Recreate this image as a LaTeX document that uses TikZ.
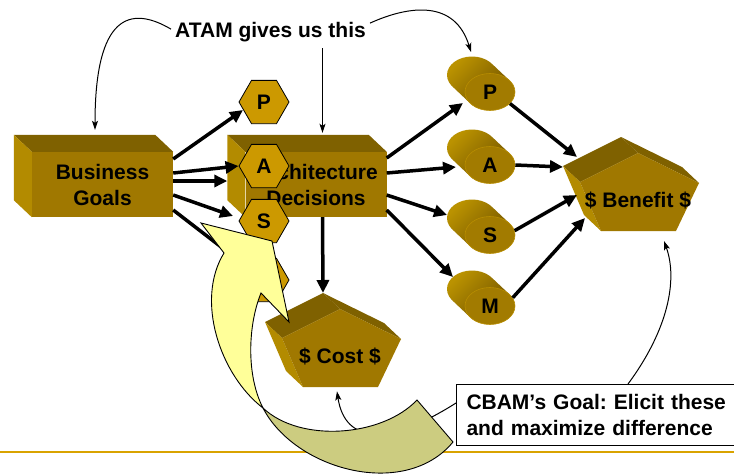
\documentclass[tikz,border=0pt]{standalone}
\usepackage{fontspec}
\setmainfont{Liberation Sans}
\usetikzlibrary{arrows.meta,calc,shapes.geometric}
\frenchspacing

\definecolor{goldfront}{HTML}{A07800}
\definecolor{goldtop}{HTML}{7F6100}
\definecolor{goldside}{HTML}{B38B00}
\definecolor{hexgold}{HTML}{CC9900}
\definecolor{cylfront}{HTML}{A27B00}
\definecolor{cylrim}{HTML}{B88D00}
\definecolor{cyllight}{HTML}{BA9200}
\definecolor{cyldark}{HTML}{725400}
\definecolor{arrowyellow}{HTML}{FFFF99}
\definecolor{arrowolive}{HTML}{CCCC80}
\definecolor{rulegold}{HTML}{D9A300}

% shaded body of a tilted cylinder whose front face is centred at #1
\newcommand{\cylinderbody}[1]{%
  \shade[left color=cyllight, right color=cyldark, shading angle=45]
    ($(#1)+(-19.7,11.4)$) -- ($(#1)+(-37.7,-5.6)$) -- ($(#1)+(1.7,-28.4)$) -- ($(#1)+(19.7,-11.4)$) -- cycle
    ($(#1)+(-19.7,11.4)$) -- ($(#1)+(-37.7,-5.6)$) -- ($(#1)+(1.7,-28.4)$) -- ($(#1)+(19.7,-11.4)$) -- cycle
    ($(#1)+(-18,-17)$) ellipse [x radius=25, y radius=18.5];
}

% extruded pentagon; #1 is the top corner of its front face
\newcommand{\pentaprism}[1]{%
  \fill[goldtop] ($(#1)+(-58,29)$) -- (#1) -- ($(#1)+(-17,-16)$) -- ($(#1)+(-75,13)$) -- cycle;
  \fill[goldtop] (#1) -- ($(#1)+(61,30)$) -- ($(#1)+(44,14)$) -- ($(#1)+(-17,-16)$) -- cycle;
  \fill[goldside] ($(#1)+(-37,78)$) -- ($(#1)+(-58,29)$) -- ($(#1)+(-75,13)$) -- ($(#1)+(-54,62)$) -- cycle;
  \fill[goldfront] (#1) -- ($(#1)+(61,30)$) -- ($(#1)+(38,78)$) -- ($(#1)+(-37,78)$) -- ($(#1)+(-58,29)$) -- cycle;
}

% top and left faces of a box whose front face is node #1
\newcommand{\boxsides}[1]{%
  \fill[goldtop] (#1.north west) -- (#1.north east) -- ($(#1.north east)+(-18,-17)$) -- ($(#1.north west)+(-18,-17)$) -- cycle;
  \fill[goldside] (#1.north west) -- (#1.south west) -- ($(#1.south west)+(-18,-17)$) -- ($(#1.north west)+(-18,-17)$) -- cycle;
}

\begin{document}
\begin{tikzpicture}[x=1pt,y=-1pt,
  bigfont/.style={font=\fontsize{21}{26}\selectfont\bfseries},
  lbl/.style={bigfont, inner sep=0pt},
  face/.style={rectangle, minimum width=141pt, minimum height=65pt, inner sep=0pt,
    fill=goldfront, align=center, bigfont},
  hexa/.style={regular polygon, regular polygon sides=6, minimum size=50pt, inner sep=0pt,
    fill=hexgold, draw=black, line width=0.8pt, bigfont},
  cylface/.style={ellipse, minimum width=50pt, minimum height=37pt, inner sep=0pt,
    fill=cylfront, draw=cylrim, line width=0.6pt, bigfont},
  bigarrow/.style={line width=3.5pt, -{Triangle[length=13pt,width=12pt]}},
  thinarrow/.style={line width=1pt, -{Stealth[length=9pt,width=6pt,inset=2pt]}},
]
\useasboundingbox (0,0) rectangle (734,474);

% footer rule
\draw[rulegold, line width=2pt] (0,452) -- (734,452);

% boxes
\node[face] (bg) at (102.5,184.5) {Business\\Goals};
\boxsides{bg}
\node[face] (ad) at (316,184.5) {Architecture\\Decisions};
\boxsides{ad}

% quality attribute hexagons
\node[hexa] (hP) at (264,102) {P};
\node[hexa] (hA) at (264,166) {A};
\node[hexa] (hS) at (264,221) {S};
\node[hexa] (hM) at (264,280) {M};

% cylinders
\cylinderbody{490,92}
\node[cylface] (cP) at (490,92) {P};
\cylinderbody{490,165}
\node[cylface] (cA) at (490,165) {A};
\cylinderbody{490,235}
\node[cylface] (cS) at (490,235) {S};
\cylinderbody{490,306}
\node[cylface] (cM) at (490,306) {M};

% benefit and cost pentagons
\coordinate (benT) at (638,153);
\pentaprism{benT}
\node[lbl, anchor=base] (benefit) at (638,207.5) {\$ Benefit \$};
\coordinate (cosT) at (340,309);
\pentaprism{cosT}
\node[lbl, anchor=base] (cost) at (340,363.3) {\$ Cost \$};

% heading and its pointers
\node[lbl, anchor=base] (atam) at (270.5,37.5) {ATAM gives us this};
\draw[thinarrow] ($(atam.west)+(-4,-3)$) .. controls (130,5) and (95,15) .. ($(bg.north)+(-7.5,-22)$);
\draw[thinarrow] ($(atam.east)+(4,-9)$) .. controls (410,5) and (455,0) .. ($(cP)+(-19,-40)$);
\draw[thinarrow] ($(atam.south)+(52,6)$) -- ($(ad.north)+(6.5,-19)$);

% goal box and its pointers
\node[draw=black, line width=1pt, fill=white, anchor=north west, minimum height=61pt,
  text width=270pt, inner xsep=10pt, inner ysep=0pt, align=left, bigfont] (cb) at (456,384)
  {CBAM’s Goal: Elicit these\\and maximize difference};
\draw[thinarrow] ($(cb.north west)+(172,0)$) .. controls (668,330) and (678,280) .. ($(benefit.base)+(26,33.5)$);
\draw[thinarrow] ($(cb.north west)+(0,19)$) .. controls (390,445) and (345,445) .. ($(cost.base)+(-3,28)$);

% business goals to attributes
\draw[bigarrow] ($(bg.east)+(0,-25.5)$) -- ($(hP)+(-21,8)$);
\draw[bigarrow] ($(bg.east)+(0,-11.5)$) -- (hA.west);
\draw[bigarrow] ($(bg.east)+(0,-3.5)$) -- ($(ad.west)+(-18,-3.5)$);
\draw[bigarrow] ($(bg.east)+(0,10.5)$) -- ($(hS)+(-31,-5)$);
\draw[bigarrow] ($(bg.east)+(0,25.5)$) -- (hM);

% architecture decisions to cylinders and cost
\draw[bigarrow] ($(ad.east)+(0,-26.5)$) -- ($(cP)+(-27,11)$);
\draw[bigarrow] ($(ad.east)+(0,-11.5)$) -- ($(cA)+(-34,2)$);
\draw[bigarrow] ($(ad.east)+(0,10.5)$) -- ($(cS)+(-43,-20)$);
\draw[bigarrow] ($(ad.east)+(0,25.5)$) -- ($(cM)+(-37,-29)$);
\draw[bigarrow] ($(ad.south)+(6.5,0)$) -- ($(cosT)+(-17,-16)$);

% cylinders to benefit
\draw[bigarrow] (cP.-30) -- ($(benefit.base)+(-61,-50.5)$);
\draw[bigarrow] (cA.east) -- ($(benefit.base)+(-75,-40.5)$);
\draw[bigarrow] (cS.10) -- ($(benefit.base)+(-61,-12.5)$);
\draw[bigarrow] (cM.20) -- ($(benefit.base)+(-53,10.5)$);

% big curved arrow: back of the band, then its front with the head
\filldraw[fill=arrowolive, draw=black, line width=0.9pt]
  (263,408) .. controls (295,470) and (405,500) .. (453,442) -- (417,400)
  .. controls (382,437) and (300,443) .. (263,408) -- cycle;
\filldraw[fill=arrowyellow, draw=black, line width=0.9pt]
  (201,223) -- (272,241) -- (289,322) -- (261,293)
  .. controls (248,325) and (246,375) .. (263,408)
  .. controls (220,375) and (195,300) .. (224,253) -- cycle;
\end{tikzpicture}
\end{document}
